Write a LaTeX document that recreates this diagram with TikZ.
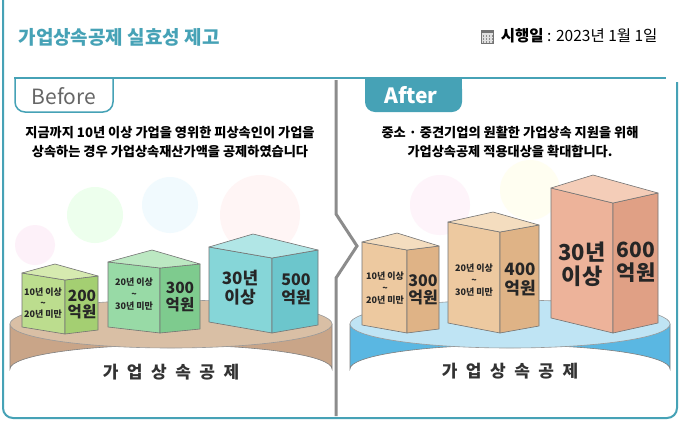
\documentclass[tikz,border=0pt]{standalone}
\usepackage{fontspec}
\setmainfont{Noto Sans CJK KR}
\begin{document}
\begin{tikzpicture}[x=1pt,y=-1pt,
  teal/.style={draw=tealc,line width=2pt},
  facetxt/.style={align=center,inner sep=0pt,text=black!85},
  edge/.style={draw=black!55,line width=0.6pt,line join=round}]
\definecolor{tealc}{HTML}{46A2B6}
\useasboundingbox (0,0) rectangle (680,421);
\fill[white] (0,0) rectangle (680,421);
% frame
\draw[teal,rounded corners=10pt] (3,0) -- (3,418) -- (677,418) -- (677,82);
\draw[teal] (14,78) -- (666,78);
% header
\node[anchor=west,text=tealc,font=\fontsize{19}{22}\selectfont\bfseries] (title) at (15,37) {가업상속공제 실효성 제고};
\node[anchor=east,font=\fontsize{15.5}{18}\selectfont] (date) at (661,36) {\textbf{시행일} : 2023년 1월 1일};
\begin{scope}[shift={(date.west)},xshift=-10pt]
\draw[black!55,fill=black!12,line width=0.6pt] (-6,-6) rectangle (6,7);
\fill[black!55] (-6,-6) rectangle (6,-3);
\foreach \i in {-4,-1,2,5}{\foreach \j in {0,3,6}{\fill[black!45] (\i-0.8,\j-0.8) rectangle (\i+0.8,\j+0.8);}}
\end{scope}
% tabs
\draw[tealc,line width=1.5pt,fill=white,rounded corners=10pt] (15,79) -- (15,112) -- (113,112) -- (113,79);
\node[text=black!60,font=\fontsize{21}{24}\selectfont] (before) at (64,96) {Before};
\fill[tealc,rounded corners=10pt] (365,79) -- (365,112) -- (462,112) -- (462,79) -- cycle;
\fill[tealc] (365,79) rectangle (462,90);
\node[text=white,font=\fontsize{21}{24}\selectfont\bfseries] (after) at (411,95) {After};
% divider
\draw[black!45,line width=3pt,line join=miter] (336,80) -- (336,214) -- (357,246) -- (336,278) -- (336,416);
% descriptions
\node[align=center,font=\fontsize{13.2}{19}\selectfont\bfseries] (bdesc) at (170,142) {지금까지 10년 이상 가업을 영위한 피상속인이 가업을\\상속하는 경우 가업상속재산가액을 공제하였습니다};
\node[align=center,font=\fontsize{13.2}{19}\selectfont\bfseries] (adesc) at (510,142) {중소 · 중견기업의 원활한 가업상속 지원을 위해\\가업상속공제 적용대상을 확대합니다.};
% soft blobs
\fill[green!20,opacity=0.35] (95,215) circle (28);
\fill[cyan!15,opacity=0.35] (170,205) circle (28);
\fill[red!10,opacity=0.35] (260,215) circle (40);
\fill[magenta!15,opacity=0.35] (35,245) circle (20);
\fill[magenta!12,opacity=0.35] (440,205) circle (30);
\fill[yellow!15,opacity=0.35] (530,190) circle (30);
% platforms
\newcommand\platform[6]{% cx, ytop, rx, ry, side col, top col
  \fill[#5,draw=black!50,line width=0.6pt] (#1-#3,#2) -- (#1-#3,#2+45) arc[start angle=180,end angle=360,x radius=#3,y radius=#4] -- (#1+#3,#2) -- cycle;
  \fill[#6,draw=black!40,line width=0.6pt] (#1,#2) ellipse[x radius=#3,y radius=#4];}
\definecolor{bside}{HTML}{C9A588}\definecolor{btop}{HTML}{D9BFA5}
\definecolor{aside}{HTML}{5AB7E2}\definecolor{atop}{HTML}{BFE4F4}
\platform{171}{324}{161}{24}{bside}{btop}
\platform{510}{324}{160}{24}{aside}{atop}
\node[font=\fontsize{17}{20}\selectfont\bfseries,text=black!80] (bplat) at (171,372) {가\,\,\,업\,\,\,상\,\,\,속\,\,\,공\,\,\,제};
\node[font=\fontsize{17}{20}\selectfont\bfseries,text=black!80] (aplat) at (510,371) {가\,\,\,업\,\,\,상\,\,\,속\,\,\,공\,\,\,제};
% cubes
\newcommand\cubebox[9]{%
  \def\h{#5}%
  \path (#1) coordinate (L) (#2) coordinate (M) (#3) coordinate (R) (#4) coordinate (B);
  \filldraw[fill=#6,edge] (L) -- (M) -- ++(0,\h) -- ([yshift=-\h]L) -- cycle;
  \filldraw[fill=#7,edge] (M) -- (R) -- ([yshift=-\h]R) -- ([yshift=-\h]M) -- cycle;
  \filldraw[fill=#8,edge] (L) -- (B) -- (R) -- (M) -- cycle;
  #9}
\definecolor{g1}{HTML}{BCDD8E}\definecolor{g1s}{HTML}{A4CF72}\definecolor{g1t}{HTML}{D6EAB0}
\definecolor{g2}{HTML}{98DAA6}\definecolor{g2s}{HTML}{7ECB8E}\definecolor{g2t}{HTML}{BCE8C2}
\definecolor{c3}{HTML}{86D6D8}\definecolor{c3s}{HTML}{6CC6CC}\definecolor{c3t}{HTML}{B1E6E6}
\definecolor{t1}{HTML}{EDC9A0}\definecolor{t1s}{HTML}{DFB386}\definecolor{t1t}{HTML}{F4DDBF}
\definecolor{p3}{HTML}{EDB39A}\definecolor{p3s}{HTML}{E0A085}\definecolor{p3t}{HTML}{F4CDB8}
\cubebox{22,273}{65,280}{98,276}{55,264}{54}{g1}{g1s}{g1t}{%
  \node[facetxt,font=\fontsize{9}{11}\selectfont\bfseries] (b1l) at (43,303) {10년 이상\\\textasciitilde\\20년 미만};
  \node[facetxt,font=\fontsize{15.5}{16}\selectfont\bfseries] (b1r) at (82,304) {200\\억원};}
\cubebox{108,262}{160,268}{200,264}{152,250}{65}{g2}{g2s}{g2t}{%
  \node[facetxt,font=\fontsize{9}{12}\selectfont\bfseries] (b2l) at (134,294) {20년 이상\\\textasciitilde\\30년 미만};
  \node[facetxt,font=\fontsize{15.5}{17}\selectfont\bfseries] (b2r) at (180,297) {300\\억원};}
\cubebox{209,247}{272,258}{318,250}{253,234}{75}{c3}{c3s}{c3t}{%
  \node[facetxt,font=\fontsize{17}{19}\selectfont\bfseries] (b3l) at (240,288) {30년\\이상};
  \node[facetxt,font=\fontsize{16}{18}\selectfont\bfseries] (b3r) at (296,289) {500\\억원};}
\cubebox{362,242}{407,250}{439,246}{397,233}{83}{t1}{t1s}{t1t}{%
  \node[facetxt,font=\fontsize{9}{12}\selectfont\bfseries] (a1l) at (385,288) {10년 이상\\\textasciitilde\\20년 미만};
  \node[facetxt,font=\fontsize{16}{17}\selectfont\bfseries] (a1r) at (423,290) {300\\억원};}
\cubebox{448,222}{500,232}{539,225}{493,212}{101}{t1}{t1s}{t1t}{%
  \node[facetxt,font=\fontsize{9}{12}\selectfont\bfseries] (a2l) at (474,280) {20년 이상\\\textasciitilde\\30년 미만};
  \node[facetxt,font=\fontsize{17}{19}\selectfont\bfseries] (a2r) at (520,280) {400\\억원};}
\cubebox{551,188}{613,203}{658,193}{593,175}{130}{p3}{p3s}{p3t}{%
  \node[facetxt,font=\fontsize{22}{24}\selectfont\bfseries] (a3l) at (582,264) {30년\\이상};
  \node[facetxt,font=\fontsize{21}{23}\selectfont\bfseries] (a3r) at (636,262) {600\\억원};}
\end{tikzpicture}
\end{document}
